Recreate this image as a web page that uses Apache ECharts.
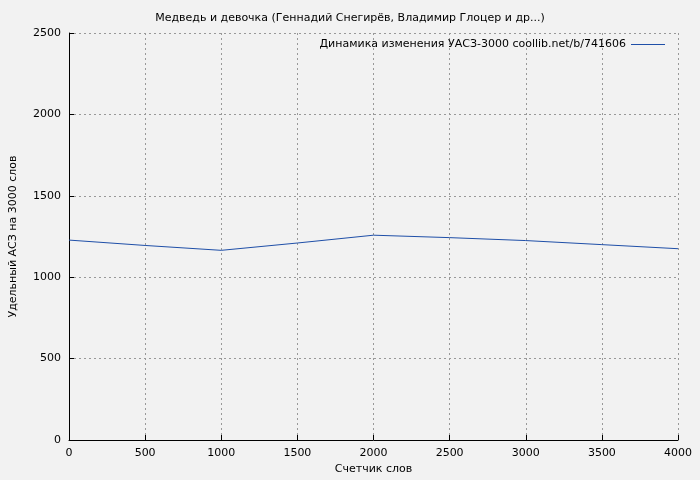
<!DOCTYPE html>
<html><head><meta charset="utf-8">
<script src="https://cdn.jsdelivr.net/npm/echarts@6/dist/echarts.min.js"></script>
<style>html,body{margin:0;background:#f2f2f2}#c{width:700px;height:480px}</style>
</head><body><div id="c"></div>
<script>
var words = [0, 500, 1000, 1500, 2000, 2500, 3000, 3500, 4000];
var uasz = [1228, 1195, 1165, 1210, 1258, 1243, 1225, 1200, 1175];
var seriesName = 'Динамика изменения УАСЗ-3000 coollib.net/b/741606';

var chart = echarts.init(document.getElementById('c'));
var font = 'DejaVu Sans';
var axisCommon = {
  axisLine: {show: true, onZero: false, lineStyle: {color: '#000'}},
  axisTick: {show: true, inside: true, length: 5, lineStyle: {color: '#000'}},
  axisLabel: {color: '#000', fontFamily: font, fontSize: 11, formatter: function(v){return String(v);}},
  splitLine: {show: true, lineStyle: {color: '#999', type: [2, 3]}},
  nameTextStyle: {color: '#000', fontFamily: font, fontSize: 11}
};
chart.setOption({
  backgroundColor: '#f2f2f2',
  animation: false,
  title: {text: 'Медведь и девочка (Геннадий Снегирёв, Владимир Глоцер и др...)', left: 'center', top: 8,
    textStyle: {fontFamily: font, fontSize: 11, fontWeight: 'normal', color: '#000'}},
  legend: {right: 30, top: 34, icon: 'path://M0,0H40V1H0Z', itemWidth: 34, itemHeight: 2, align: 'right',
    textStyle: {fontFamily: font, fontSize: 11, color: '#000'}, data: [seriesName]},
  grid: {left: 67, right: 22, top: 33, bottom: 40},
  xAxis: Object.assign({type: 'value', min: 0, max: 4000, interval: 500, name: 'Счетчик слов',
    nameLocation: 'middle', nameGap: 24}, axisCommon),
  yAxis: Object.assign({type: 'value', min: 0, max: 2500, interval: 500, name: 'Удельный АСЗ на 3000 слов',
    nameLocation: 'middle', nameGap: 50}, axisCommon),
  series: [{name: seriesName, type: 'line', showSymbol: false, data: words.map(function(w, i){return [w, uasz[i]];}),
    lineStyle: {color: '#1f4fa8', width: 1}, itemStyle: {color: '#1f4fa8'}}]
});
</script></body></html>
